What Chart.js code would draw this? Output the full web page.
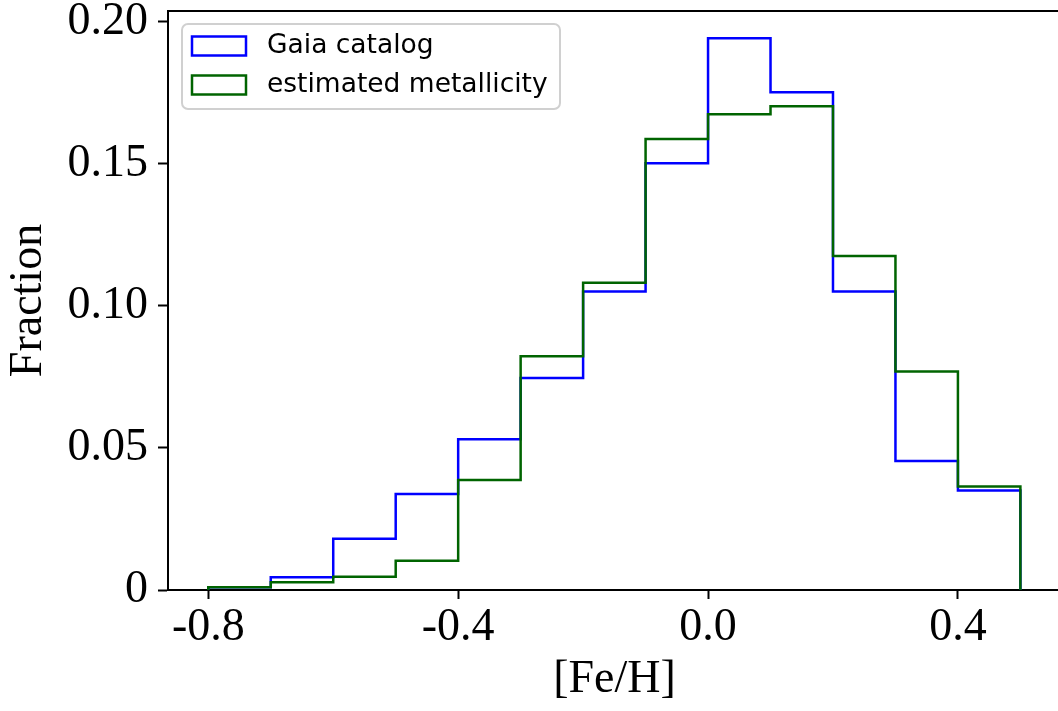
<!DOCTYPE html>
<html>
<head>
<meta charset="utf-8">
<script src="https://cdn.jsdelivr.net/npm/chart.js@4.4.0/dist/chart.umd.min.js"></script>
<style>
html,body{margin:0;padding:0;overflow:hidden;background:#fff;width:1058px;height:711px}
#wrap{position:absolute;left:0;top:0;width:1072px;height:711px}
</style>
</head>
<body>
<div id="wrap"><canvas id="c" width="1072" height="711"></canvas></div>
<script>
const binEdges = [-0.8, -0.7, -0.6, -0.5, -0.4, -0.3, -0.2, -0.1, 0.0, 0.1, 0.2, 0.3, 0.4, 0.5];
const gaiaCatalog = [0.0010, 0.0045, 0.0180, 0.0338, 0.0530, 0.0746, 0.1050, 0.1501, 0.1941, 0.1751, 0.1050, 0.0454, 0.0350];
const estimatedMetallicity = [0.0010, 0.0027, 0.0047, 0.0103, 0.0387, 0.0822, 0.1081, 0.1587, 0.1674, 0.1702, 0.1175, 0.0769, 0.0364];
const seriesLabels = ['Gaia catalog', 'estimated metallicity'];
const seriesColors = ['#0000ff', '#006400'];
const xTickValues = [-0.8, -0.4, 0.0, 0.4];
const xTickLabels = ['-0.8', '-0.4', '0.0', '0.4'];
const yTickValues = [0, 0.05, 0.10, 0.15, 0.20];
const yTickLabels = ['0', '0.05', '0.10', '0.15', '0.20'];
const xTitle = '[Fe/H]';
const yTitle = 'Fraction';

const serif = "'Liberation Serif', 'Times New Roman', serif";
const sans = "'DejaVu Sans', sans-serif";

function stepPoints(values) {
  const pts = [{x: binEdges[0], y: 0}];
  for (let i = 0; i < values.length; i++) pts.push({x: binEdges[i + 1], y: values[i]});
  pts.push({x: binEdges[binEdges.length - 1], y: 0});
  return pts;
}

const framePlugin = {
  id: 'frame',
  afterDraw(chart) {
    const {ctx, chartArea: a} = chart;
    ctx.save();
    ctx.strokeStyle = '#000';
    ctx.lineWidth = 2;
    ctx.beginPath();
    ctx.moveTo(a.left - 1, a.top);
    ctx.lineTo(a.right, a.top);
    ctx.lineTo(a.right, a.bottom);
    ctx.stroke();
    ctx.restore();
  }
};

const legendPlugin = {
  id: 'boxLegend',
  afterDraw(chart) {
    const {ctx, chartArea: a} = chart;
    const x0 = a.left + 14, y0 = a.top + 13, w = 378, h = 85, r = 6;
    ctx.save();
    ctx.beginPath();
    ctx.moveTo(x0 + r, y0);
    ctx.arcTo(x0 + w, y0, x0 + w, y0 + h, r);
    ctx.arcTo(x0 + w, y0 + h, x0, y0 + h, r);
    ctx.arcTo(x0, y0 + h, x0, y0, r);
    ctx.arcTo(x0, y0, x0 + w, y0, r);
    ctx.closePath();
    ctx.fillStyle = 'rgba(255,255,255,0.8)';
    ctx.fill();
    ctx.strokeStyle = '#d0d0d0';
    ctx.lineWidth = 2;
    ctx.stroke();
    ctx.font = '26.5px ' + sans;
    ctx.textBaseline = 'middle';
    ctx.textAlign = 'left';
    chart.data.datasets.forEach((ds, i) => {
      const cy = y0 + 22 + i * 39;
      ctx.strokeStyle = ds.borderColor;
      ctx.lineWidth = 2.5;
      ctx.strokeRect(x0 + 10, cy - 9.5, 54, 19);
      ctx.fillStyle = '#000';
      ctx.fillText(ds.label, x0 + 85, cy);
    });
    ctx.restore();
  }
};

new Chart(document.getElementById('c'), {
  type: 'line',
  data: {
    datasets: [
      {label: seriesLabels[0], data: stepPoints(gaiaCatalog), borderColor: seriesColors[0], order: 1},
      {label: seriesLabels[1], data: stepPoints(estimatedMetallicity), borderColor: seriesColors[1], order: 0}
    ]
  },
  options: {
    responsive: false,
    animation: false,
    devicePixelRatio: 1,
    layout: {padding: {left: 0, top: 11, right: 11, bottom: 0}},
    plugins: {legend: {display: false}, tooltip: {enabled: false}},
    elements: {
      point: {radius: 0, hoverRadius: 0},
      line: {tension: 0, borderWidth: 2.5, fill: false, stepped: 'after', borderJoinStyle: 'miter', borderCapStyle: 'butt'}
    },
    scales: {
      x: {
        type: 'linear', min: -0.8645, max: 0.565,
        afterBuildTicks: s => { s.ticks = xTickValues.map(v => ({value: v})); },
        afterFit: s => { s.height = 121; s.paddingLeft = 0; s.paddingRight = 0; },
        ticks: {
          callback: v => xTickLabels[xTickValues.indexOf(v)],
          font: {family: serif, size: 46, lineHeight: 1}, color: '#000', padding: 6,
          maxRotation: 0, autoSkip: false
        },
        grid: {drawOnChartArea: false, tickLength: 9, tickWidth: 2, tickColor: '#000'},
        border: {display: true, color: '#000', width: 2},
        title: {display: true, text: xTitle, color: '#000', font: {family: serif, size: 46, lineHeight: 1}, padding: {top: 0, bottom: 8}}
      },
      y: {
        min: 0, max: 0.2037,
        afterBuildTicks: s => { s.ticks = yTickValues.map(v => ({value: v})); },
        afterFit: s => { s.width = 168; s.paddingTop = 0; s.paddingBottom = 0; },
        ticks: {
          callback: v => yTickLabels[yTickValues.indexOf(v)],
          font: {family: serif, size: 46, lineHeight: 1}, color: '#000', padding: 10
        },
        grid: {drawOnChartArea: false, tickLength: 10, tickWidth: 2, tickColor: '#000'},
        border: {display: true, color: '#000', width: 2},
        title: {display: true, text: yTitle, color: '#000', font: {family: serif, size: 46, lineHeight: 1}, padding: {top: 6, bottom: 0}}
      }
    }
  },
  plugins: [framePlugin, legendPlugin]
});
</script>
</body>
</html>
